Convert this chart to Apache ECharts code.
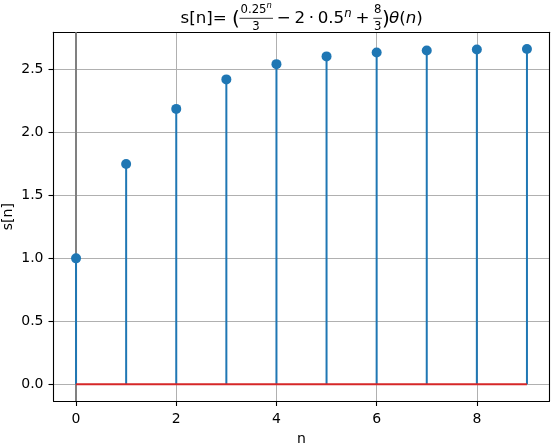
<!DOCTYPE html>
<html><head><meta charset="utf-8">
<script src="https://cdn.jsdelivr.net/npm/echarts@6/dist/echarts.min.js"></script>
<style>html,body{margin:0;padding:0;background:#fff}#c{width:555px;height:447px}</style>
</head><body><div id="c"></div>
<script>
var nValues = [0, 1, 2, 3, 4, 5, 6, 7, 8, 9];
var sValues = [1.0, 1.75, 2.1875, 2.4219, 2.543, 2.6045, 2.6355, 2.651, 2.6589, 2.6628];
var xTicks = [0, 2, 4, 6, 8];
var yTicks = [0.0, 0.5, 1.0, 1.5, 2.0, 2.5];
var baseline = [[0, 0], [9, 0]];

var F = 'DejaVu Sans';
var pts = nValues.map(function (n, i) { return [n, sValues[i]]; });

var chart = echarts.init(document.getElementById('c'), null, {renderer: 'canvas'});

function t(x, y, text, fs, opt) {
  opt = opt || {};
  return {type: 'text', x: x, y: y, z: 100,
    style: {text: text, fontFamily: F, fontSize: fs, fill: '#000',
      fontStyle: opt.italic ? 'italic' : 'normal',
      align: opt.align || 'left', verticalAlign: 'middle', rich: opt.rich}};
}
function bar(x1, x2, y) {
  return {type: 'line', z: 100, shape: {x1: x1, y1: y, x2: x2, y2: y}, style: {stroke: '#000', lineWidth: 0.8}};
}
var my = 19;
var M = 16.7, S = 11.7;
var titleEls = [
  t(180.5, my, 's[n]=', M),
  t(232, my + 0.5, '(', 20),
  t(240.5, 9.5, '0.25', S),
  t(266.5, 5.5, 'n', 8.4, {italic: true}),
  bar(239.5, 273, 18.3),
  t(256, 26.5, '3', S, {align: 'center'}),
  t(276.7, my, '\u2212', M),
  t(294.4, my, '2', M),
  t(308.7, my, '\u00b7', M),
  t(317.7, my, '0.5', M),
  t(344.3, 14, 'n', S, {italic: true}),
  t(355.4, my, '+', M),
  t(377.6, 9.5, '8', S, {align: 'center'}),
  bar(373.3, 382, 18.3),
  t(377.6, 26.5, '3', S, {align: 'center'}),
  t(382, my + 0.5, ')', 20),
  t(389, my, '{i|\u03b8}({i|n})', M, {rich: {i: {fontStyle: 'italic', fontFamily: F, fontSize: M, fill: '#000'}}})
];

var xMin = -0.45, xMax = 9.45, yMin = -0.1331, yMax = 2.7959;
var frameAxisX = {
  type: 'value', position: 'top', min: xMin, max: xMax,
  axisLine: {show: true, onZero: false, lineStyle: {color: '#000', width: 1.1}},
  axisTick: {show: false}, axisLabel: {show: false}, splitLine: {show: false}
};
var frameAxisY = {
  type: 'value', position: 'right', min: yMin, max: yMax,
  axisLine: {show: true, onZero: false, lineStyle: {color: '#000', width: 1.1}},
  axisTick: {show: false}, axisLabel: {show: false}, splitLine: {show: false}
};

var option = {
  animation: false,
  backgroundColor: '#fff',
  textStyle: {fontFamily: F},
  grid: {left: 53.5, right: 5.5, top: 32.3, bottom: 46, containLabel: false, outerBoundsMode: 'none'},
  graphic: titleEls,
  xAxis: [{
    type: 'value', min: xMin, max: xMax,
    name: 'n', nameLocation: 'middle', nameGap: 31, nameMoveOverlap: false,
    nameTextStyle: {fontFamily: F, fontSize: 14, color: '#000'},
    axisLine: {show: true, onZero: false, lineStyle: {color: '#000', width: 1.1}},
    axisTick: {show: true, inside: false, length: 5, customValues: xTicks, lineStyle: {color: '#000', width: 1.1}},
    axisLabel: {customValues: xTicks, margin: 11, fontFamily: F, fontSize: 14, color: '#000', formatter: function (v) { return String(v); }},
    splitLine: {show: true, lineStyle: {color: '#b0b0b0', width: 1}}
  }, frameAxisX],
  yAxis: [{
    type: 'value', min: yMin, max: yMax,
    name: 's[n]', nameLocation: 'middle', nameGap: 38, nameRotate: 90, nameMoveOverlap: false,
    nameTextStyle: {fontFamily: F, fontSize: 14, color: '#000'},
    axisLine: {show: true, onZero: false, lineStyle: {color: '#000', width: 1.1}},
    axisTick: {show: true, inside: false, length: 5, customValues: yTicks, lineStyle: {color: '#000', width: 1.1}},
    axisLabel: {customValues: yTicks, margin: 10, fontFamily: F, fontSize: 14, color: '#000', formatter: function (v) { return v.toFixed(1); }},
    splitLine: {show: true, lineStyle: {color: '#b0b0b0', width: 1}}
  }, frameAxisY],
  series: [
    {
      type: 'custom', z: 3,
      data: pts,
      renderItem: function (params, api) {
        var x = api.value(0), y = api.value(1);
        var p0 = api.coord([x, 0]), p1 = api.coord([x, y]);
        return {type: 'line', shape: {x1: p0[0], y1: p0[1], x2: p1[0], y2: p1[1]},
          style: {stroke: '#1f77b4', lineWidth: 2}};
      },
      markLine: {
        silent: true, symbol: 'none', z: 2,
        label: {show: false},
        lineStyle: {color: '#808080', width: 2, type: 'solid', opacity: 1},
        data: [{xAxis: 0}]
      }
    },
    {
      type: 'line', z: 4, data: baseline, symbol: 'none',
      lineStyle: {color: '#d62728', width: 2}
    },
    {
      type: 'scatter', z: 5, data: pts, symbol: 'circle', symbolSize: 10,
      itemStyle: {color: '#1f77b4', opacity: 1}
    }
  ]
};
chart.setOption(option);
</script></body></html>
